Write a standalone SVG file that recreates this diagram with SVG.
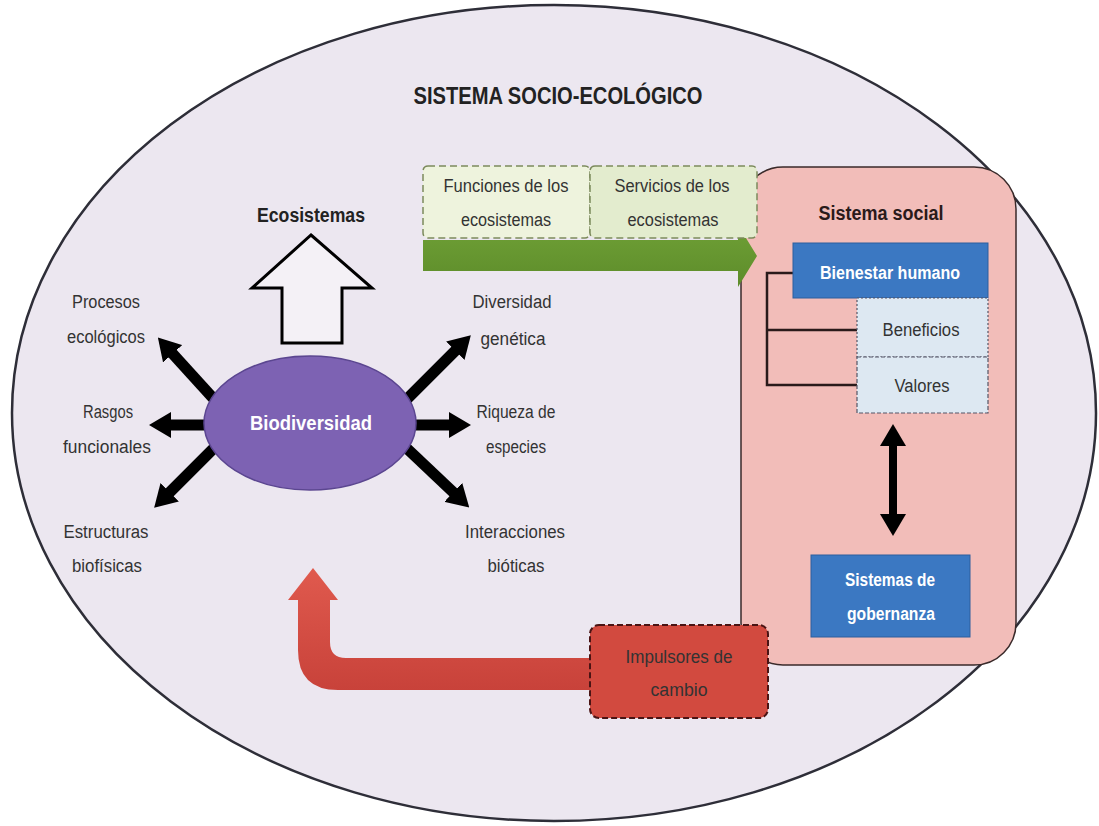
<svg xmlns="http://www.w3.org/2000/svg" width="1099" height="826" viewBox="0 0 1099 826">
<style>
text{font-family:"Liberation Sans",Arial,sans-serif;text-anchor:middle}
.lbl{font-size:18px;fill:#333}
.b{font-weight:bold}
.wt{fill:#fff;font-weight:bold}
</style>
<defs>
<marker id="blk" viewBox="0 0 22 26" refX="1" refY="13" markerWidth="22" markerHeight="26" markerUnits="userSpaceOnUse" orient="auto-start-reverse">
<path d="M0,0 L22,13 L0,26 Z" fill="#000"/>
</marker>
<linearGradient id="grn" x1="0" y1="0" x2="0" y2="1">
<stop offset="0" stop-color="#6fa036"/><stop offset="1" stop-color="#5d8c2a"/>
</linearGradient>
<linearGradient id="red" x1="0" y1="0" x2="0" y2="1">
<stop offset="0" stop-color="#e05a4e"/><stop offset="1" stop-color="#c8423a"/>
</linearGradient>
</defs>
<rect width="1099" height="826" fill="#fff"/>
<g id="sistema-socio-ecologico">
<ellipse cx="554" cy="413" rx="542" ry="408" fill="#ece7f0" stroke="#2e2e38" stroke-width="2.5"/>
<text x="558" y="104" class="b" font-size="24" fill="#222" textLength="289" lengthAdjust="spacingAndGlyphs">SISTEMA SOCIO-ECOLÓGICO</text>
</g>
<g id="sistema-social">
<rect x="741" y="167" width="275" height="498" rx="42" fill="#f2bdb9" stroke="#3a2a2a" stroke-width="1.5"/>
<text x="881" y="220" class="b" font-size="20" fill="#2a1a1a" textLength="125" lengthAdjust="spacingAndGlyphs">Sistema social</text>
</g>
<g id="connectors">
<g stroke="#000" stroke-width="11" marker-end="url(#blk)">
<line x1="222" y1="408" x2="172" y2="353"/>
<line x1="230" y1="425" x2="170" y2="425"/>
<line x1="222" y1="440" x2="169" y2="493"/>
<line x1="398" y1="408" x2="456" y2="350"/>
<line x1="390" y1="425" x2="450" y2="425"/>
<line x1="398" y1="440" x2="454" y2="493"/>
</g>
<path d="M311,235 L372,288 L342,288 L342,343 L282,343 L282,288 L252,288 Z" fill="#f4f1f6" stroke="#000" stroke-width="3" stroke-linejoin="miter"/>
<path d="M423,240 L738,240 L738,225 L757,256 L738,287 L738,271 L423,271 Z" fill="url(#grn)"/>
<path d="M590,658 L346,658 Q330,658 330,642 L330,600 L338,600 L313,568 L288,600 L298,600 L298,650 Q298,690 338,690 L590,690 Z" fill="url(#red)"/>
<line x1="893" y1="445" x2="893" y2="515" stroke="#000" stroke-width="8" marker-start="url(#blk)" marker-end="url(#blk)"/>
<path d="M793,273 L767,273 L767,385 L857,385 M767,330 L857,330" fill="none" stroke="#2a1a1a" stroke-width="2.5"/>
</g>
<g id="ecosistemas">
<text x="311" y="222" class="b" font-size="20" fill="#222" textLength="108" lengthAdjust="spacingAndGlyphs">Ecosistemas</text>
</g>
<g id="biodiversidad">
<ellipse cx="310" cy="423" rx="106" ry="67" fill="#7d62b3" stroke="#5b4690" stroke-width="1.5"/>
<text x="311" y="430" class="wt" font-size="20" textLength="122" lengthAdjust="spacingAndGlyphs">Biodiversidad</text>
</g>
<g id="procesos">
<text x="106" y="308" class="lbl" textLength="68" lengthAdjust="spacingAndGlyphs">Procesos</text>
<text x="106" y="343" class="lbl" textLength="78" lengthAdjust="spacingAndGlyphs">ecológicos</text>
</g>
<g id="rasgos">
<text x="108" y="418" class="lbl" textLength="50" lengthAdjust="spacingAndGlyphs">Rasgos</text>
<text x="107" y="453" class="lbl" textLength="88" lengthAdjust="spacingAndGlyphs">funcionales</text>
</g>
<g id="estructuras">
<text x="106" y="538" class="lbl" textLength="85" lengthAdjust="spacingAndGlyphs">Estructuras</text>
<text x="107" y="572" class="lbl" textLength="70" lengthAdjust="spacingAndGlyphs">biofísicas</text>
</g>
<g id="diversidad">
<text x="512" y="308" class="lbl" textLength="79" lengthAdjust="spacingAndGlyphs">Diversidad</text>
<text x="513" y="345" class="lbl" textLength="65" lengthAdjust="spacingAndGlyphs">genética</text>
</g>
<g id="riqueza">
<text x="516" y="418" class="lbl" textLength="79" lengthAdjust="spacingAndGlyphs">Riqueza de</text>
<text x="516" y="453" class="lbl" textLength="60" lengthAdjust="spacingAndGlyphs">especies</text>
</g>
<g id="interacciones">
<text x="515" y="538" class="lbl" textLength="100" lengthAdjust="spacingAndGlyphs">Interacciones</text>
<text x="516" y="572" class="lbl" textLength="57" lengthAdjust="spacingAndGlyphs">bióticas</text>
</g>
<g id="funciones">
<rect x="423" y="166" width="167" height="72" rx="5" fill="#eef3dd" stroke="#7c8a5c" stroke-width="1.5" stroke-dasharray="7,4"/>
<text x="506" y="192" class="lbl" fill="#444" textLength="125" lengthAdjust="spacingAndGlyphs">Funciones de los</text>
<text x="506" y="226" class="lbl" fill="#444" textLength="90" lengthAdjust="spacingAndGlyphs">ecosistemas</text>
</g>
<g id="servicios">
<rect x="590" y="166" width="167" height="72" rx="5" fill="#e3ecce" stroke="#7c8a5c" stroke-width="1.5" stroke-dasharray="7,4"/>
<text x="672" y="192" class="lbl" fill="#444" textLength="115" lengthAdjust="spacingAndGlyphs">Servicios de los</text>
<text x="673" y="226" class="lbl" fill="#444" textLength="91" lengthAdjust="spacingAndGlyphs">ecosistemas</text>
</g>
<g id="bienestar">
<rect x="793" y="243" width="195" height="55" fill="#3b78c2" stroke="#2d5f9e" stroke-width="1"/>
<text x="890" y="279" class="wt" font-size="18" textLength="140" lengthAdjust="spacingAndGlyphs">Bienestar humano</text>
</g>
<g id="beneficios">
<rect x="857" y="298" width="131" height="59" fill="#dde8f2" stroke="#556" stroke-width="1.2" stroke-dasharray="2,2"/>
<text x="921" y="336" class="lbl" fill="#333" textLength="77" lengthAdjust="spacingAndGlyphs">Beneficios</text>
</g>
<g id="valores">
<rect x="857" y="357" width="131" height="56" fill="#dde8f2" stroke="#556" stroke-width="1.2" stroke-dasharray="4,2"/>
<text x="922" y="392" class="lbl" fill="#333" textLength="55" lengthAdjust="spacingAndGlyphs">Valores</text>
</g>
<g id="gobernanza">
<rect x="811" y="555" width="159" height="82" fill="#3b78c2" stroke="#2d5f9e" stroke-width="1"/>
<text x="890" y="586" class="wt" font-size="18" textLength="90" lengthAdjust="spacingAndGlyphs">Sistemas de</text>
<text x="891" y="620" class="wt" font-size="18" textLength="88" lengthAdjust="spacingAndGlyphs">gobernanza</text>
</g>
<g id="impulsores">
<rect x="590" y="625" width="178" height="93" rx="9" fill="#d24a3f" stroke="#4a1414" stroke-width="2" stroke-dasharray="6,3"/>
<text x="679" y="663" class="lbl" fill="#3d1010" textLength="107" lengthAdjust="spacingAndGlyphs">Impulsores de</text>
<text x="679" y="696" class="lbl" fill="#3d1010" textLength="57" lengthAdjust="spacingAndGlyphs">cambio</text>
</g>
</svg>
